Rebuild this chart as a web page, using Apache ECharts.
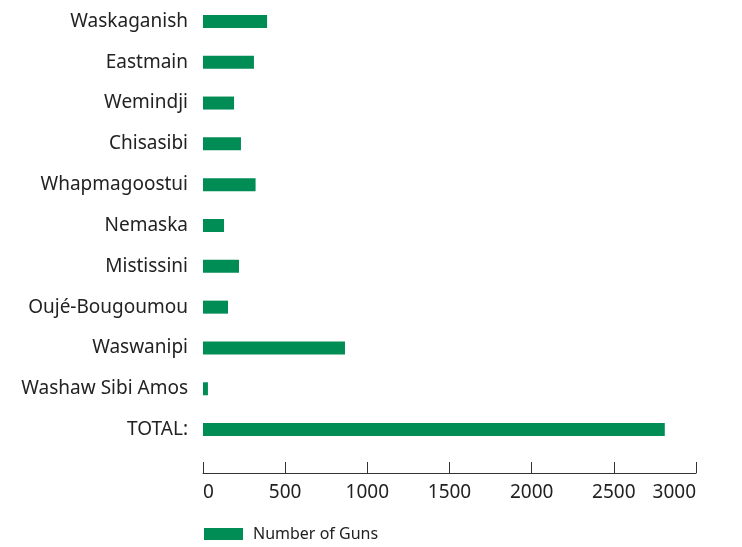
<!DOCTYPE html>
<html>
<head>
<meta charset="utf-8">
<script src="https://cdn.jsdelivr.net/npm/echarts@6/dist/echarts.min.js"></script>
<style>
html, body { margin: 0; padding: 0; background: #fff; }
#chartmain { width: 742px; height: 547px; }
</style>
</head>
<body>
<div id="chartmain"></div>
<script>
var communities = ['Waskaganish', 'Eastmain', 'Wemindji', 'Chisasibi', 'Whapmagoostui', 'Nemaska',
	'Mistissini', 'Oujé-Bougoumou', 'Waswanipi', 'Washaw Sibi Amos', 'TOTAL:'];
var guns = [390, 310, 189, 231, 320, 128, 219, 152, 864, 30, 2810];
var seriesName = 'Number of Guns';

var green = '#008c55';

var option = {
	animation : false,
	textStyle : {
		fontFamily : 'Noto Sans'
	},
	legend : {
		left : 199,
		top : 521,
		itemWidth : 39,
		itemHeight : 12,
		itemGap : 10,
		textStyle : {
			fontSize : 16,
			color : '#222',
			padding : [ 0, 0, 0, 5 ]
		},
		data : [ {
			name : seriesName,
			icon : 'rect'
		} ]
	},
	grid : {
		left : 203,
		top : 1,
		width : 493,
		height : 449,
		containLabel : false
	},
	xAxis : {
		type : 'value',
		min : 0,
		max : 3000,
		interval : 500,
		offset : 23,
		splitLine : { show : false },
		axisLine : {
			show : true,
			lineStyle : { color : '#333', width : 1 }
		},
		axisTick : {
			show : true,
			inside : true,
			length : 11,
			lineStyle : { color : '#333' }
		},
		axisLabel : {
			fontSize : 19,
			color : '#222',
			margin : 10,
			alignMinLabel : 'left',
			alignMaxLabel : 'right',
			formatter : function(v) { return String(v); }
		}
	},
	yAxis : {
		type : 'category',
		inverse : true,
		data : communities,
		axisLine : { show : false },
		axisTick : { show : false },
		axisLabel : {
			fontSize : 19,
			color : '#222',
			margin : 15
		}
	},
	series : [ {
		name : seriesName,
		type : 'bar',
		barWidth : 13,
		itemStyle : { color : green },
		data : guns
	} ]
};

var myChart = echarts.init(document.getElementById('chartmain'));
myChart.setOption(option);
</script>
</body>
</html>
